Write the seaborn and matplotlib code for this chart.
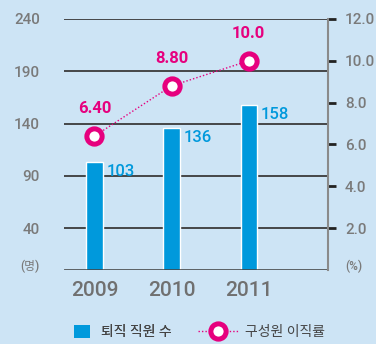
import numpy as np
import matplotlib
matplotlib.use("Agg")
import matplotlib.pyplot as plt
from matplotlib.lines import Line2D
from matplotlib.patches import Patch
import seaborn as sns

# Retiring staff count and member turnover rate by year
years = ["2009", "2010", "2011"]
retirees = [103, 136, 158]
turnover = [6.40, 8.80, 10.0]
turnover_labels = ["6.40", "8.80", "10.0"]

left_ticks = [40, 90, 140, 190, 240]
right_ticks = [2.0, 4.0, 6.0, 8.0, 10.0, 12.0]
legend_labels = ["퇴직 직원 수", "구성원 이직률"]

BG = "#cde4f5"
BLUE = "#0099dc"
MAGENTA = "#e6007e"
GREY = "#7a7a7a"

sns.set_theme(style="white")
plt.rcParams["font.family"] = ["Roboto", "Noto Sans CJK KR", "DejaVu Sans"]

fig = plt.figure(figsize=(3.76, 3.44), dpi=100, facecolor=BG)
ax = fig.add_axes([0.169, 0.215, 0.704, 0.730])
ax.set_facecolor(BG)

pos = np.arange(len(years))
sns.barplot(x=pos, y=retirees, color=BLUE, width=0.21, saturation=1,
            native_scale=True, ax=ax, zorder=3)

ax.set_xlim(-0.40, 3.03)
ax.set_ylim(0, 240)
for v in left_ticks:
    ax.axhline(v, color="#3a3a3a", lw=1.3, zorder=2)
ax.axhline(0, color="#3a3a3a", lw=1.8, zorder=4)

ax.set_yticks([0] + left_ticks)
ax.set_yticklabels(["(명)"] + [str(v) for v in left_ticks])
ax.tick_params(axis="y", length=0, pad=17, labelsize=11, labelcolor=GREY)
for t in ax.get_yticklabels():
    t.set_fontweight("medium")
ax.get_yticklabels()[0].set_fontsize(8.5)
ax.get_yticklabels()[0].set_va("baseline")
ax.set_xticks(pos)
ax.set_xticklabels(years)
ax.tick_params(axis="x", length=0, pad=8, labelsize=15, labelcolor="#707070")
for t in ax.get_xticklabels():
    t.set_fontweight("medium")
ax.set_xlabel("")
ax.set_ylabel("")
for s in ax.spines.values():
    s.set_visible(False)

for x, v in zip(pos, retirees):
    ax.text(x + 0.155, v - 2, str(v), color=BLUE, fontsize=12,
            fontweight="medium", ha="left", va="top", zorder=4)

ax2 = ax.twinx()
ax2.set_ylim(0, 12)
sns.lineplot(x=pos, y=turnover, ax=ax2, color=MAGENTA, lw=1, linestyle=(0, (1, 1.5)),
             marker="o", markersize=11, markerfacecolor="white",
             markeredgecolor=MAGENTA, markeredgewidth=3.6, zorder=5)
for x, v, lab in zip(pos, turnover, turnover_labels):
    ax2.text(x, v + 0.95, lab, color=MAGENTA, fontsize=12, fontweight="bold",
             ha="center", va="bottom")

ax2.set_yticks([0] + right_ticks)
ax2.set_yticklabels(["(%)"] + [f"{v:.1f}" for v in right_ticks])
ax2.tick_params(axis="y", length=6, width=2, color="#222222", pad=6,
                labelsize=11, labelcolor=GREY, direction="out")
for t in ax2.get_yticklabels():
    t.set_fontweight("medium")
ax2.yaxis.get_major_ticks()[0].tick2line.set_visible(False)
ax2.get_yticklabels()[0].set_fontsize(8.5)
ax2.get_yticklabels()[0].set_va("baseline")
for name, s in ax2.spines.items():
    s.set_visible(name == "right")
ax2.spines["right"].set_color("#8a8a8a")
ax2.spines["right"].set_linewidth(1.5)
ax2.set_ylabel("")

# Legend: two separate entries so each handle keeps its own size
leg_y = 1 - 332 / 344
bar_handle = Patch(facecolor=BLUE, edgecolor="none")
line_handle = Line2D([], [], color=MAGENTA, lw=1, linestyle=(0, (1, 1.5)), marker="o",
                     markersize=11, markerfacecolor="white", markeredgecolor=MAGENTA,
                     markeredgewidth=3.6)
leg1 = fig.legend([bar_handle], [legend_labels[0]], loc="center left",
                  bbox_to_anchor=(74 / 376, leg_y), frameon=False, fontsize=10,
                  labelcolor="#444444", handlelength=1.15, handleheight=1.15,
                  handletextpad=0.8, borderpad=0, borderaxespad=0)
leg2 = fig.legend([line_handle], [legend_labels[1]], loc="center left",
                  bbox_to_anchor=(198 / 376, leg_y), frameon=False, fontsize=10,
                  labelcolor="#444444", handlelength=2.9, handletextpad=0.5,
                  borderpad=0, borderaxespad=0)
fig.add_artist(leg1)

fig.savefig("out.png", dpi=100, facecolor=BG)
